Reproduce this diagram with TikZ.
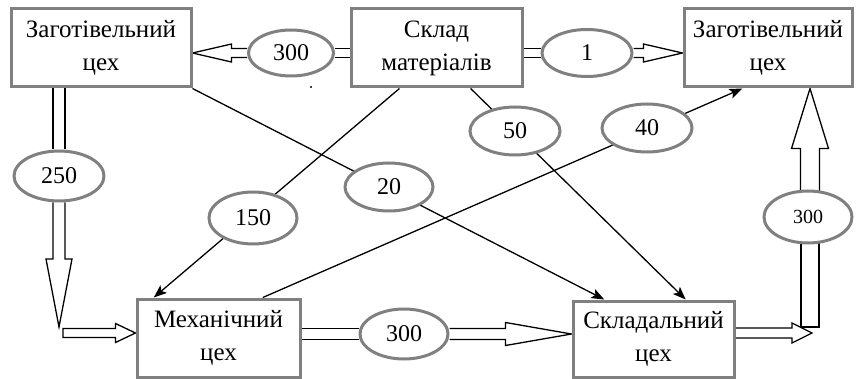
\documentclass[tikz,border=0pt]{standalone}
\usepackage{fontspec}
\setmainfont{Liberation Serif}
\usetikzlibrary{calc,arrows.meta,shapes.geometric,backgrounds}
\definecolor{frame}{RGB}{128,128,128}
\begin{document}
\begin{tikzpicture}[x=1pt,y=-1pt,
  box/.style={draw=frame,line width=3pt,fill=white,rectangle,inner sep=0pt,
    align=center,font=\fontsize{25}{33}\selectfont},
  oval/.style={draw=frame,line width=3pt,fill=white,ellipse,inner sep=0pt,
    minimum width=88pt,minimum height=48pt,font=\fontsize{24}{28}\selectfont},
  flow/.style={draw=black,line width=1.3pt,-{Stealth[length=13pt,width=10pt,inset=3pt]}},
  wide/.style={draw=black,line width=1.3pt,line join=miter},
  % two parallel lines, half-distance #1
  bar/.style={wide,to path={let \p1=(\tikztostart),\p2=(\tikztotarget),
      \n1={atan2(\y2-\y1,\x2-\x1)} in
      ($(\p1)+(\n1+90:#1pt)$) -- ($(\p2)+(\n1+90:#1pt)$)
      ($(\p1)+(\n1-90:#1pt)$) -- ($(\p2)+(\n1-90:#1pt)$)}},
  % same, closed at the start
  barclosed/.style={wide,to path={let \p1=(\tikztostart),\p2=(\tikztotarget),
      \n1={atan2(\y2-\y1,\x2-\x1)} in
      ($(\p2)+(\n1+90:#1pt)$) -- ($(\p1)+(\n1+90:#1pt)$)
      -- ($(\p1)+(\n1-90:#1pt)$) -- ($(\p2)+(\n1-90:#1pt)$)}},
  % outlined block arrow: shaft half-width #1, head half-width #2, head length #3
  hollow/.style n args={3}{wide,to path={let \p1=(\tikztostart),\p2=(\tikztotarget),
      \n1={atan2(\y2-\y1,\x2-\x1)} in
      ($(\p1)+(\n1+90:#1pt)$)
      -- ($(\p2)+(\n1+180:#3pt)+(\n1+90:#1pt)$)
      -- ($(\p2)+(\n1+180:#3pt)+(\n1+90:#2pt)$)
      -- (\p2)
      -- ($(\p2)+(\n1+180:#3pt)+(\n1-90:#2pt)$)
      -- ($(\p2)+(\n1+180:#3pt)+(\n1-90:#1pt)$)
      -- ($(\p1)+(\n1-90:#1pt)$)}},
  hollowclosed/.style n args={3}{wide,to path={let \p1=(\tikztostart),\p2=(\tikztotarget),
      \n1={atan2(\y2-\y1,\x2-\x1)} in
      ($(\p1)+(\n1-90:#1pt)$)
      -- ($(\p1)+(\n1+90:#1pt)$)
      -- ($(\p2)+(\n1+180:#3pt)+(\n1+90:#1pt)$)
      -- ($(\p2)+(\n1+180:#3pt)+(\n1+90:#2pt)$)
      -- (\p2)
      -- ($(\p2)+(\n1+180:#3pt)+(\n1-90:#2pt)$)
      -- ($(\p2)+(\n1+180:#3pt)+(\n1-90:#1pt)$)
      -- cycle}},
]
\useasboundingbox (0,0) rectangle (856,379);

% workshops and store
\node[box,minimum width=180pt,minimum height=78pt] (A) at (101,48) {Заготівельний\\цех};
\node[box,minimum width=171pt,minimum height=78pt] (S) at (436.5,48) {Склад\\матеріалів};
\node[box,minimum width=168pt,minimum height=78pt] (B) at (768,48) {Заготівельний\\цех};
\node[box,minimum width=163pt,minimum height=78pt] (M) at (218.5,338) {Механічний\\цех};
\node[box,minimum width=161pt,minimum height=76pt] (K) at (653.5,339) {Складальний\\цех};

% flow quantities
\node[oval,minimum width=85pt,minimum height=46pt] (e300a) at (291,53) {300};
\node[oval,minimum width=90pt,minimum height=47pt] (e1) at (587,53) {1};
\node[oval,minimum width=90pt,minimum height=50pt] (e250) at (59,176) {250};
\node[oval] (e20) at (389,187) {20};
\node[oval,minimum height=52pt] (e150) at (253,218) {150};
\node[oval,minimum width=90pt] (e50) at (515,131) {50};
\node[oval,minimum width=90pt] (e40) at (647,128) {40};
\node[oval,minimum height=50pt] (e300b) at (404,334) {300};
\node[oval,minimum width=88pt,minimum height=52pt,font=\fontsize{20}{24}\selectfont] (e300c) at (808,217) {300};

% free ends of the block arrows
\coordinate (v1end) at (59,327);
\coordinate (h3start) at (63,333);
\coordinate (h5end) at (812,333);
\coordinate (v2foot) at (810,327);

\fill (311,87) circle (1.2pt);

\begin{scope}[on background layer]
  % top row
  \draw[bar=4.5] (S.west |- e300a.east) to (e300a.east);
  \draw[hollow={4.5}{9}{39}] (e300a.west) to (A.east |- e300a.west);
  \draw[bar=4.5] (S.east |- e1.west) to (e1.west);
  \draw[hollow={4.5}{9}{39}] (e1.east) to (B.west |- e1.east);
  % left column
  \draw[bar=6] (e250.north |- A.south) to (e250.north);
  \draw[hollow={6}{13}{68}] (e250.south) to (v1end);
  \draw[hollowclosed={4.5}{9.5}{20}] (h3start) to (M.west |- h3start);
  % bottom row
  \draw[bar=5.5] (M.east |- e300b.west) to (e300b.west);
  \draw[hollow={5.5}{11.5}{66}] (e300b.east) to (K.west |- e300b.east);
  \draw[hollow={5}{10}{20}] (K.east |- h5end) to (h5end);
  % right column
  \draw[barclosed=9] (v2foot) to (v2foot |- e300c.center);
  \draw[hollow={9.5}{18.5}{60}] (v2foot |- e300c.center) to (v2foot |- B.south);
  % single flows
  \draw[flow] (A.south east) -- ($(K.north west)!0.2!(K.north east)$);
  \draw[flow] ($(S.south west)!0.287!(S.south east)$) -- ($(M.north west)!0.11!(M.north east)$);
  \draw[flow] ($(S.south west)!0.696!(S.south east)$) -- ($(K.north west)!0.696!(K.north east)$);
  \draw[flow] ($(M.north west)!0.767!(M.north east)$) -- ($(B.south west)!0.35!(B.south east)$);
\end{scope}
\end{tikzpicture}
\end{document}
